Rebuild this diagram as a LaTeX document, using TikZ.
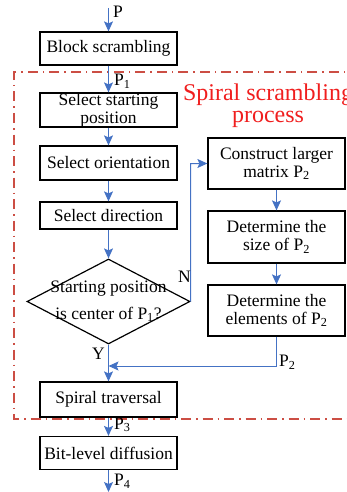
\documentclass[tikz,border=0pt]{standalone}
\usepackage{fontspec}
\setmainfont{Liberation Serif}
\usetikzlibrary{shapes.geometric,arrows.meta}
\definecolor{flowblue}{RGB}{68,114,196}
\definecolor{framered}{RGB}{204,78,68}
\definecolor{titlered}{RGB}{240,30,30}
\begin{document}
\begin{tikzpicture}[x=1pt,y=-1pt,
  stepbox/.style={draw=black,line width=1.2pt,minimum width=137pt,align=center,
    inner sep=0pt,font=\fontsize{17.5}{18}\selectfont},
  rbox/.style={draw=black,line width=1.2pt,minimum width=137pt,minimum height=51pt,align=center,
    inner sep=0pt,font=\fontsize{17.5}{18}\selectfont},
  flow/.style={draw=flowblue,line width=1pt,-{Stealth[length=10pt,width=9pt,inset=2pt]}},
  lbl/.style={font=\fontsize{17.5}{18}\selectfont,inner sep=0pt}]
\useasboundingbox (0,0) rectangle (347,492);
% dash-dot frame around the spiral scrambling stage
\draw[framered,line width=1.2pt,dash pattern=on 10pt off 5pt on 1.5pt off 5pt]
  (360,72) -- (14,72) -- (14,419) -- (360,419);
\node[text=titlered,font=\fontsize{24}{22}\selectfont,align=center,anchor=north] (title) at (268,80)
  {Spiral scrambling\\process};
% left column
\node[stepbox,minimum height=33pt] (blk) at (108.5,48.5) {Block scrambling};
\node[stepbox,minimum height=34pt] (ssp) at (108.5,110) {Select starting\\position};
\node[stepbox,minimum height=34pt] (sor) at (108.5,163) {Select orientation};
\node[stepbox,minimum height=27pt] (sdr) at (108.5,215.5) {Select direction};
\node[diamond,draw=black,line width=1.2pt,minimum width=163pt,minimum height=85pt,inner sep=0pt,aspect=1.9] (dec) at (108.5,301.5) {};
\node[font=\fontsize{17.5}{27}\selectfont,align=center] (dtext) at (108.5,301) {Starting position\\is center of P\textsubscript{1}?};
\node[stepbox,minimum height=35pt] (spt) at (108.5,399.5) {Spiral traversal};
\node[stepbox,minimum height=33pt] (bit) at (108.5,453) {Bit-level diffusion};
% right column
\node[rbox] (con) at (276.5,163.5) {Construct larger\\matrix P\textsubscript{2}};
\node[rbox,minimum height=52pt] (siz) at (276.5,237) {Determine the\\size of P\textsubscript{2}};
\node[rbox] (ele) at (276.5,310.5) {Determine the\\elements of P\textsubscript{2}};
% connectors
\coordinate (pin) at (108.5,8);
\coordinate (pout) at (108.5,492);
\coordinate (nturn) at (190.5,163.5);
\coordinate (pturn) at (276.5,366);
\coordinate (pjoin) at (108.5,366);
\draw[flow] (pin) -- (blk.north);
\draw[flow] (blk.south) -- (ssp.north);
\draw[flow] (ssp.south) -- (sor.north);
\draw[flow] (sor.south) -- (sdr.north);
\draw[flow] (sdr.south) -- (dec.north);
\draw[flow] (dec.east) -- (nturn) -- (con.west);
\draw[flow] (con.south) -- (siz.north);
\draw[flow] (siz.south) -- (ele.north);
\draw[flow] (ele.south) -- (pturn) -- (pjoin);
\draw[flow] (dec.south) -- (spt.north);
\draw[flow] (spt.south) -- (bit.north);
\draw[flow] (bit.south) -- (pout);
% labels
\node[lbl,anchor=west] (lp) at (113,12) {P};
\node[lbl,anchor=west] (lp1) at (114,81) {P\textsubscript{1}};
\node[lbl,anchor=east] (ln) at (191,277) {N};
\node[lbl,anchor=east] (ly) at (105,354) {Y};
\node[lbl,anchor=west] (lp2) at (279,362) {P\textsubscript{2}};
\node[lbl,anchor=west] (lp3) at (114,425) {P\textsubscript{3}};
\node[lbl,anchor=west] (lp4) at (114,481) {P\textsubscript{4}};
\end{tikzpicture}
\end{document}
